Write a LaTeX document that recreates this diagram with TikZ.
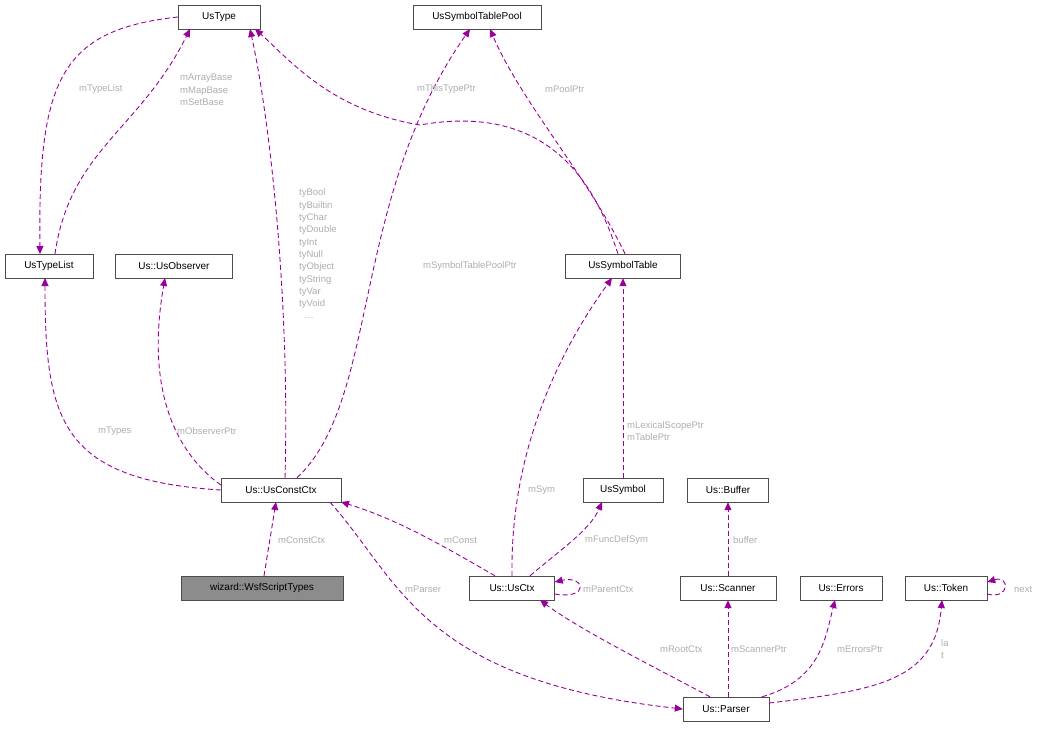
\documentclass[tikz,border=0pt]{standalone}
\usepackage{fontspec}
\setmainfont{Liberation Sans}
\usetikzlibrary{arrows.meta}
\begin{document}
\begin{tikzpicture}[x=1pt,y=-1pt,
 box/.style={draw=black!70,fill=white,minimum height=24pt,inner xsep=5pt,font=\fontsize{10}{12}\selectfont,anchor=center},
 e/.style={draw=violet!80!magenta,dashed,line width=0.9pt,dash pattern=on 5pt off 3pt,-{Triangle[length=8pt,width=7pt]}},
 lb/.style={text=black!32,font=\fontsize{9.5}{11}\selectfont,anchor=west,inner sep=1pt}]
\useasboundingbox (0,0) rectangle (1049,728);
\node[box,minimum width=82pt] (ty) at (219,17) {UsType};
\node[box,minimum width=128pt] (pool) at (477,17) {UsSymbolTablePool};
\node[box,minimum width=88pt] (tl) at (49,266) {UsTypeList};
\node[box,minimum width=117pt] (obs) at (174,266) {Us::UsObserver};
\node[box,minimum width=115pt] (st) at (623,266) {UsSymbolTable};
\node[box,minimum width=120pt] (cc) at (281,490) {Us::UsConstCtx};
\node[box,minimum width=162pt,fill=black!45] (ws) at (262,588) {wizard::WsfScriptTypes};
\node[box,minimum width=80pt] (sym) at (623,490) {UsSymbol};
\node[box,minimum width=81pt] (buf) at (728,490) {Us::Buffer};
\node[box,minimum width=85pt] (ctx) at (512,588) {Us::UsCtx};
\node[box,minimum width=96pt] (sc) at (728,588) {Us::Scanner};
\node[box,minimum width=82pt] (er) at (841,588) {Us::Errors};
\node[box,minimum width=82pt] (tk) at (946,588) {Us::Token};
\node[box,minimum width=86pt] (pa) at (726,709) {Us::Parser};
% edges
\draw[e] (ty.west) .. controls (60,30) and (38,80) .. (40,254);
\draw[e] (tl.north -| 55,0) .. controls (70,150) and (140,130) .. (190,29);
\draw[e] (cc.west) .. controls (60,480) and (45,420) .. (45,278);
\draw[e] (cc.west |- 0,485) .. controls (200,470) and (140,420) .. (165,278);
\draw[e] (cc.north -| 285,0) .. controls (290,300) and (270,120) .. (250,29);
\draw[e] (cc.north -| 297,0) .. controls (380,400) and (350,200) .. (470,29);
\draw[e] (st.north -| 618,0) .. controls (600,200) and (560,100) .. (420,125) .. controls (330,110) and (290,60) .. (255,29);
\draw[e] (st.north -| 625,0) .. controls (590,180) and (520,100) .. (490,29);
\draw[e] (ws.north -| 264,0) -- (276,502);
\draw[e] (ctx.north -| 495,0) .. controls (450,550) and (400,520) .. (341,502);
\draw[e] (ctx.north) .. controls (510,450) and (560,350) .. (612,278);
\draw[e] (ctx.north -| 530,0) .. controls (560,550) and (590,530) .. (602,502);
\draw[e] (sym.north) -- (st.south);
\draw[e] (ctx.east |- 0,594) .. controls (590,600) and (585,575) .. (ctx.east |- 0,582);
\draw[e] (sc.north) -- (buf.south);
\draw[e] (cc.south -| 330,0) .. controls (400,580) and (420,680) .. (pa.west);
\draw[e] (pa.north -| 710,0) .. controls (660,670) and (580,630) .. (540,600);
\draw[e] (pa.north -| 728,0) -- (sc.south);
\draw[e] (pa.north -| 762,0) .. controls (820,680) and (825,640) .. (835,600);
\draw[e] (pa.east |- 0,703) .. controls (880,690) and (935,680) .. (942,600);
\draw[e] (tk.east |- 0,594) .. controls (1010,600) and (1010,575) .. (tk.east |- 0,582);
% labels
\node[lb] at (78,89) {mTypeList};
\node[lb,align=left] at (179,90) {mArrayBase\\[1.3pt]mMapBase\\[1.3pt]mSetBase};
\node[lb,align=left] at (298,254) {tyBool\\[1.3pt]tyBuiltin\\[1.3pt]tyChar\\[1.3pt]tyDouble\\[1.3pt]tyInt\\[1.3pt]tyNull\\[1.3pt]tyObject\\[1.3pt]tyString\\[1.3pt]tyVar\\[1.3pt]tyVoid\\[1.3pt]\ \ \ldots};
\node[lb] at (416,89) {mThisTypePtr};
\node[lb] at (544,89) {mPoolPtr};
\node[lb] at (422,266) {mSymbolTablePoolPtr};
\node[lb] at (97,431) {mTypes};
\node[lb] at (176,431) {mObserverPtr};
\node[lb,align=left] at (626,431) {mLexicalScopePtr\\[1.3pt]mTablePtr};
\node[lb] at (527,490) {mSym};
\node[lb] at (277,540) {mConstCtx};
\node[lb] at (443,540) {mConst};
\node[lb] at (584,540) {mFuncDefSym};
\node[lb] at (732,540) {buffer};
\node[lb] at (404,589) {mParser};
\node[lb] at (582,589) {mParentCtx};
\node[lb] at (1013,589) {next};
\node[lb] at (659,649) {mRootCtx};
\node[lb] at (730,649) {mScannerPtr};
\node[lb] at (836,649) {mErrorsPtr};
\node[lb,align=left] at (940,649) {la\\[1.3pt]t};
\end{tikzpicture}
\end{document}
